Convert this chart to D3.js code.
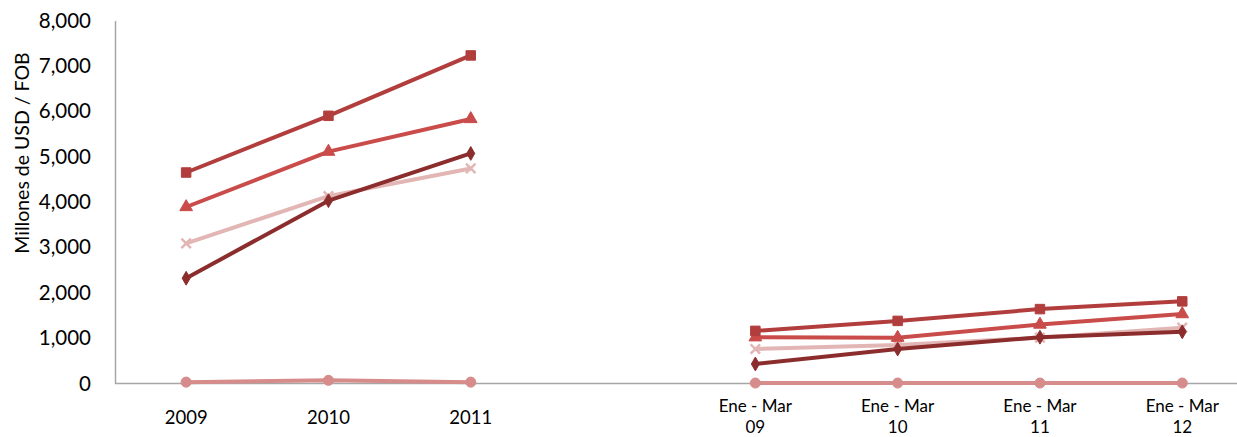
<!DOCTYPE html>
<html>
<head>
<meta charset="utf-8">
<script src="https://cdn.jsdelivr.net/npm/d3@7"></script>
<style>
  html, body { margin: 0; padding: 0; background: #ffffff; }
  svg { display: block; }
  text { font-family: "Lato", "Open Sans", sans-serif; fill: #000; }
</style>
</head>
<body>
<svg id="chart" width="1237" height="437"></svg>
<script>
// ---- data ----
const categories = ["2009", "2010", "2011", "", "Ene - Mar 09", "Ene - Mar 10", "Ene - Mar 11", "Ene - Mar 12"];
const yTicks = [0, 1000, 2000, 3000, 4000, 5000, 6000, 7000, 8000];
const yLabel = "Millones de USD / FOB";

const seriesSquare   = [4650, 5900, 7230, null, 1160, 1380, 1640, 1810];
const seriesTriangle = [3890, 5110, 5830, null, 1020, 1010, 1300, 1530];
const seriesCross    = [3090, 4130, 4740, null, 760, 850, 1010, 1230];
const seriesDiamond  = [2320, 4030, 5070, null, 430, 760, 1020, 1140];
const seriesCircle   = [30, 70, 30, null, 10, 10, 10, 10];

// draw order (later on top)
const series = [
  { values: seriesCross,    color: "#e2b6b4", marker: "cross" },
  { values: seriesCircle,   color: "#d68c8b", marker: "circle" },
  { values: seriesDiamond,  color: "#8c2d2d", marker: "diamond" },
  { values: seriesTriangle, color: "#c94c4a", marker: "triangle" },
  { values: seriesSquare,   color: "#b13e3d", marker: "square" }
];

// ---- layout ----
const svg = d3.select("#chart");
const plotLeft = 115, step = 142.3;
const x = d3.scalePoint().domain(categories).range([plotLeft, plotLeft + step * categories.length]).padding(0.5);
const y = d3.scaleLinear().domain([0, 8000]).range([383.5, 20.5]);

// axes
const yAxis = d3.axisLeft(y).tickValues(yTicks).tickSize(0).tickPadding(24).tickFormat(d3.format(","));
const gy = svg.append("g").attr("transform", `translate(${plotLeft},0)`).call(yAxis);
gy.select(".domain").attr("stroke", "#a6a6a6").attr("stroke-width", 1.5);
gy.selectAll(".tick text").attr("font-size", 20.5).attr("font-family", "Lato, sans-serif").attr("fill", "#000");

const gx = svg.append("g").attr("transform", `translate(0,${y(0)})`);
gx.append("line").attr("x1", plotLeft).attr("x2", 1237).attr("y1", 0).attr("y2", 0)
  .attr("stroke", "#a6a6a6").attr("stroke-width", 1.5);

categories.forEach(c => {
  if (!c) return;
  const idx = c.lastIndexOf(" ");
  const isTwo = c.startsWith("Ene");
  const t = gx.append("text").attr("text-anchor", "middle")
    .attr("font-size", isTwo ? 17 : 18.5)
    .attr("x", x(c));
  if (isTwo) {
    t.append("tspan").attr("x", x(c)).attr("y", 28.5).text(c.slice(0, idx));
    t.append("tspan").attr("x", x(c)).attr("y", 49.5).text(c.slice(idx + 1));
  } else {
    t.attr("y", 40).text(c);
  }
});

// y label
svg.append("text")
  .attr("transform", `translate(29,153) rotate(-90)`)
  .attr("text-anchor", "middle").attr("font-size", 19.5)
  .text(yLabel);

// lines
const line = d3.line()
  .defined(d => d.v != null)
  .x(d => x(d.c)).y(d => y(d.v));

const symbolType = {
  square: d3.symbolSquare, triangle: d3.symbolTriangle, diamond: d3.symbolDiamond,
  circle: d3.symbolCircle, cross: d3.symbolTimes
};
const symbolSize = { square: 90, triangle: 70, diamond: 55, circle: 80, cross: 60 };

series.forEach(s => {
  const pts = s.values.map((v, i) => ({ c: categories[i], v }));
  svg.append("path").datum(pts)
    .attr("fill", "none").attr("stroke", s.color).attr("stroke-width", 4)
    .attr("stroke-linejoin", "round").attr("d", line);
  const sym = d3.symbol().type(symbolType[s.marker]).size(symbolSize[s.marker]);
  svg.append("g").selectAll("path").data(pts.filter(p => p.v != null)).join("path")
    .attr("transform", p => `translate(${x(p.c)},${y(p.v)})`)
    .attr("d", sym)
    .attr("fill", s.marker === "cross" ? "none" : s.color)
    .attr("stroke", s.color)
    .attr("stroke-width", s.marker === "cross" ? 2.5 : 1);
});
</script>
</body>
</html>
